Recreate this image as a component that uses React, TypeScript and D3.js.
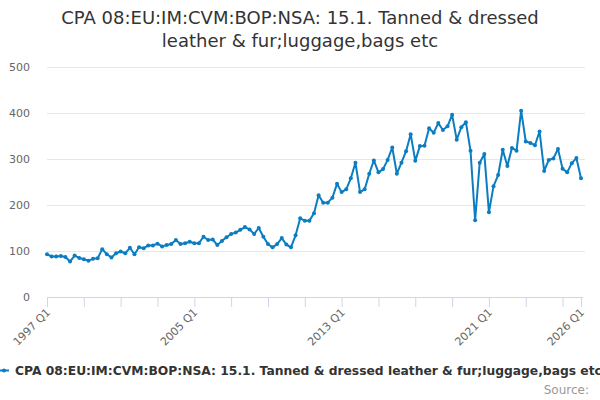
import { useEffect, useRef } from 'react'
import * as d3 from 'd3'

const startYear = 1997
const values = [
  93, 88, 88, 89, 87, 77, 90, 85, 82, 79, 83, 84, 104, 93, 86, 95,
  99, 95, 107, 93, 108, 106, 112, 112, 116, 110, 113, 115, 124, 115, 117, 120,
  117, 117, 131, 124, 125, 113, 122, 130, 137, 140, 146, 152, 147, 137, 150, 131,
  115, 108, 115, 128, 114, 108, 134, 171, 166, 166, 182, 221, 205, 205, 216, 246,
  228, 234, 258, 292, 228, 234, 268, 297, 271, 278, 298, 325, 268, 292, 317, 354,
  296, 328, 329, 367, 357, 378, 363, 371, 396, 342, 369, 380, 318, 167, 292, 311,
  184, 241, 265, 320, 285, 324, 318, 405, 338, 335, 330, 360, 274, 298, 301, 322,
  279, 271, 291, 302, 258
]
const yTicks = [0, 100, 200, 300, 400, 500]
const labelEvery = 32
const tickEvery = 8
const titleLines = ['CPA 08:EU:IM:CVM:BOP:NSA: 15.1. Tanned & dressed', 'leather & fur;luggage,bags etc']
const seriesName = 'CPA 08:EU:IM:CVM:BOP:NSA: 15.1. Tanned & dressed leather & fur;luggage,bags etc'

const quarters = values.map((_, i) => `${startYear + Math.floor(i / 4)} Q${(i % 4) + 1}`)

export default function App() {
  const svgRef = useRef<SVGSVGElement>(null)
  const width = 600
  const height = 400

  useEffect(() => {
    if (!svgRef.current) return
    const svg = d3.select(svgRef.current)
    svg.selectAll('*').remove()

    const font = '"DejaVu Sans", Verdana, sans-serif'
    const left = 47, right = 581, top = 67, bottom = 297
    const last = values.length - 1

    const x = d3.scaleLinear().domain([0, last]).range([left, right])
    const y = d3.scaleLinear().domain([0, 500]).range([bottom, top])

    svg.append('rect').attr('width', width).attr('height', height).attr('fill', '#fff')

    // title
    svg.append('text')
      .attr('x', 300)
      .attr('text-anchor', 'middle')
      .style('font-family', font)
      .style('font-size', '18px')
      .style('fill', '#333333')
      .selectAll('tspan')
      .data(titleLines)
      .enter()
      .append('tspan')
      .attr('x', 300)
      .attr('y', (_, i) => 24 + i * 23)
      .text(d => d)

    // grid + y labels
    const gy = svg.append('g')
    yTicks.forEach(t => {
      if (t > 0) {
        gy.append('line')
          .attr('x1', left).attr('x2', right + 4)
          .attr('y1', y(t) + 0.5).attr('y2', y(t) + 0.5)
          .attr('stroke', '#e6e6e6')
      }
      gy.append('text')
        .attr('x', 30)
        .attr('y', y(t) + 4)
        .attr('text-anchor', 'end')
        .style('font-family', font)
        .style('font-size', '11px')
        .style('fill', '#666666')
        .text(t)
    })

    // x axis
    const gx = svg.append('g')
    gx.append('line')
      .attr('x1', left).attr('x2', right + 2)
      .attr('y1', bottom + 0.5).attr('y2', bottom + 0.5)
      .attr('stroke', '#ccd6eb')
    const tickIdx = d3.range(0, last + 1, tickEvery)
    if (tickIdx[tickIdx.length - 1] !== last) tickIdx.push(last)
    tickIdx.forEach(i => {
      gx.append('line')
        .attr('x1', x(i) + 0.5).attr('x2', x(i) + 0.5)
        .attr('y1', bottom).attr('y2', bottom + 10)
        .attr('stroke', '#ccd6eb')
    })
    const labelIdx = d3.range(0, last + 1, labelEvery)
    if (labelIdx[labelIdx.length - 1] !== last) labelIdx.push(last)
    labelIdx.forEach(i => {
      gx.append('text')
        .attr('transform', `translate(${x(i) + 4}, ${bottom + 16}) rotate(-45)`)
        .attr('text-anchor', 'end')
        .style('font-family', font)
        .style('font-size', '11px')
        .style('fill', '#666666')
        .text(quarters[i])
    })

    // series
    const color = '#0b7dc2'
    const line = d3.line<number>().x((_, i) => x(i)).y(d => y(d))
    svg.append('path')
      .datum(values)
      .attr('d', line)
      .attr('fill', 'none')
      .attr('stroke', color)
      .attr('stroke-width', 2)
      .attr('stroke-linejoin', 'round')
    svg.append('g')
      .selectAll('circle')
      .data(values)
      .enter()
      .append('circle')
      .attr('cx', (_, i) => x(i))
      .attr('cy', d => y(d))
      .attr('r', 2)
      .attr('fill', color)

    // legend
    const lg = svg.append('g')
    lg.append('line')
      .attr('x1', 0).attr('x2', 9)
      .attr('y1', 370.5).attr('y2', 370.5)
      .attr('stroke', color).attr('stroke-width', 2)
    lg.append('circle').attr('cx', 4).attr('cy', 370.5).attr('r', 2).attr('fill', color)
    lg.append('text')
      .attr('x', 15)
      .attr('y', 375)
      .style('font-family', font)
      .style('font-size', '12.3px')
      .style('font-weight', 'bold')
      .style('fill', '#333333')
      .text(seriesName)

    svg.append('text')
      .attr('x', 589)
      .attr('y', 394)
      .attr('text-anchor', 'end')
      .style('font-family', font)
      .style('font-size', '12px')
      .style('fill', '#999999')
      .text('Source:')
  }, [])

  return (
    <svg ref={svgRef} width={width} height={height}
      style={{ position: 'absolute', left: 0, top: 0, display: 'block' }} />
  )
}
